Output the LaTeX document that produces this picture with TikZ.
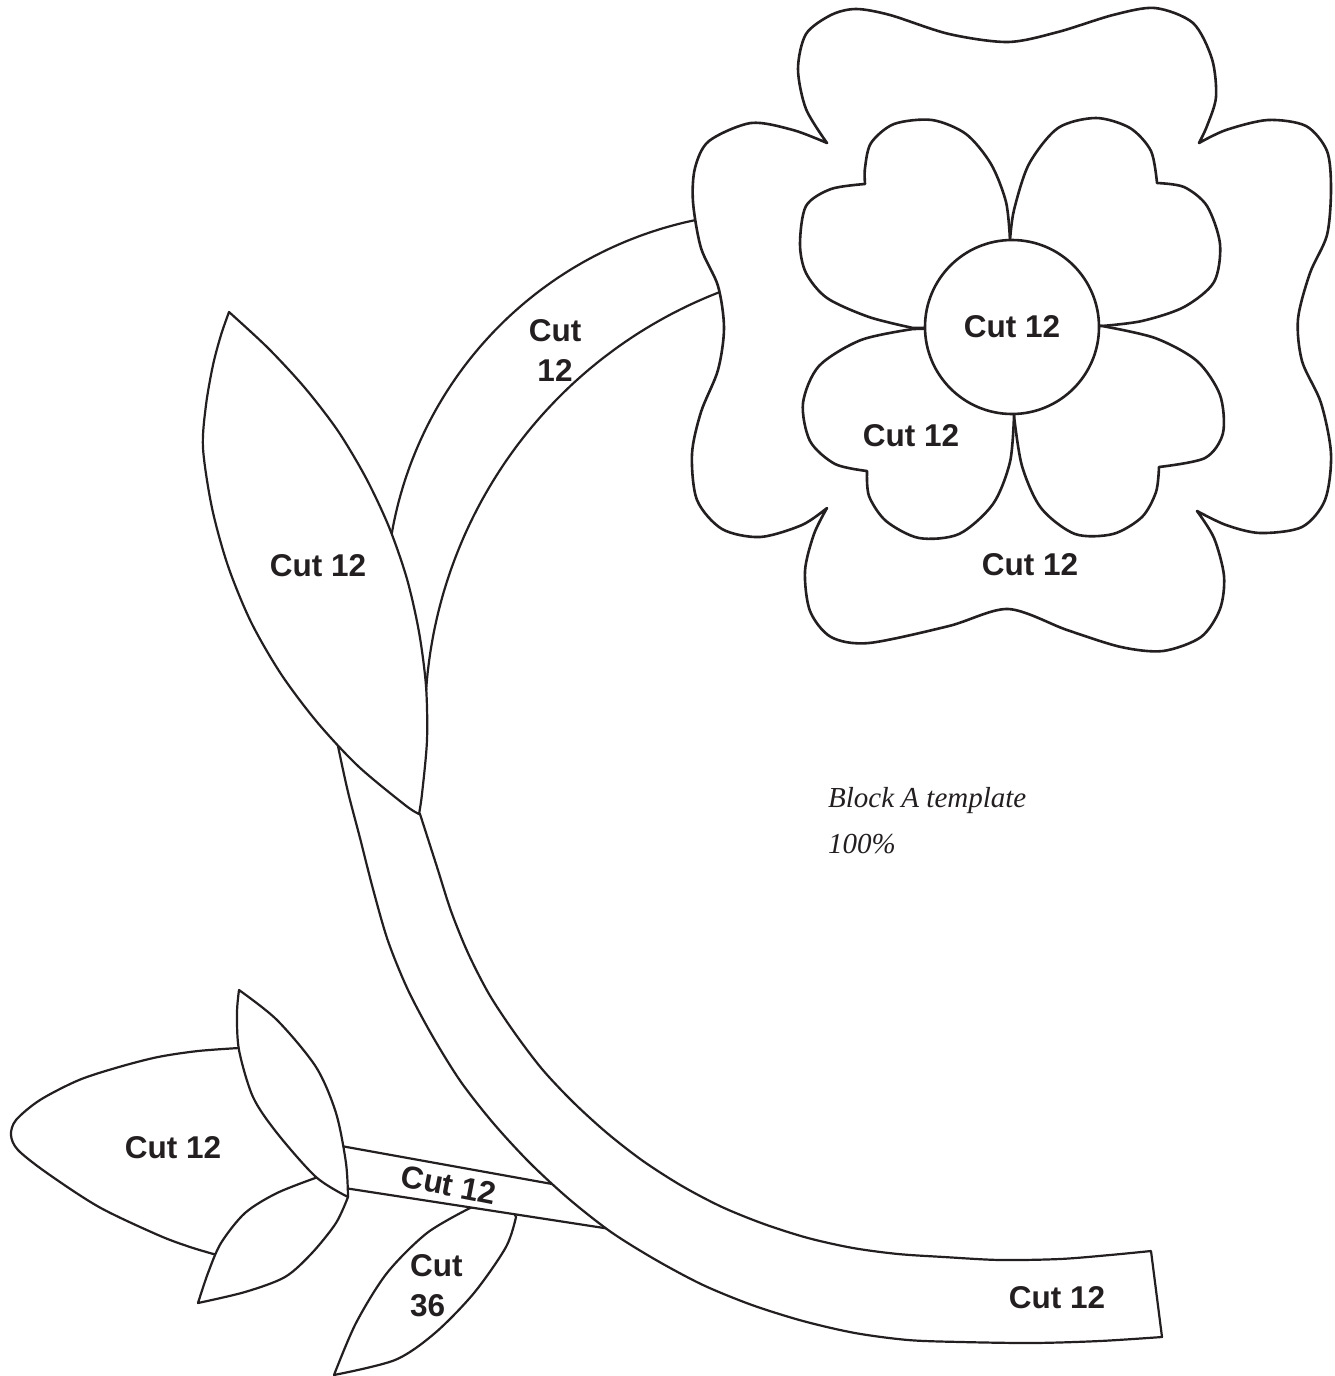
\documentclass[tikz,border=0pt]{standalone}
\usepackage{fontspec}
\setmainfont{Liberation Serif}
\setsansfont{Liberation Sans}
\usepackage{tikz}
\definecolor{ink}{HTML}{231F20}
\tikzset{
  piece/.style={draw=ink, line width=2.2pt, fill=white, line join=round},
  petal/.style={piece, line width=2.6pt},
  cutlbl/.style={font=\sffamily\bfseries\fontsize{31.5}{40}\selectfont, text=ink, inner sep=0pt},
  notelbl/.style={font=\itshape\fontsize{29}{46}\selectfont, text=ink, inner sep=0pt, anchor=base west}
}
\begin{document}
\begin{tikzpicture}[x=1pt, y=-1pt]
\useasboundingbox (0,0) rectangle (1335,1376);

% leaves and small stem at the bottom left
\draw[piece] plot[smooth] coordinates {(239,1048) (198,1051) (158,1057) (119,1067) (79,1080) (40,1100) (16,1120) (11,1135) (18,1150) (47,1173) (99,1207) (158,1235) (190,1247) (217,1255)}
  -- (280,1228) -- (333,1195) -- (328,1150) -- (270,1090) -- cycle;
\draw[piece] plot[smooth] coordinates {(318,1177) (277,1193) (245,1213) (221,1243) (208,1273) (198,1303)}
  -- plot[smooth] coordinates {(198,1303) (245,1292) (285,1277) (312,1253) (336,1223) (348,1197)}
  -- (336,1168) -- cycle;
\draw[piece] plot[smooth] coordinates {(470,1208) (427,1233) (387,1273) (356,1323) (334,1375)}
  -- plot[smooth] coordinates {(334,1375) (395,1360) (435,1333) (474,1293) (506,1247) (516,1217)}
  -- (505,1195) -- cycle;
\draw[piece] (330,1144) -- (580,1189) -- (630,1232) -- (338,1187) -- cycle;
\draw[piece] plot[smooth] coordinates {(239,990) (277,1020) (316,1067) (336,1113) (346,1163) (348,1197)}
  -- plot[smooth] coordinates {(348,1197) (316,1177) (277,1133) (253,1097) (239,1050) (237,1013) (239,990)} -- cycle;

% lower stem
\draw[piece] plot[smooth] coordinates {(334,722) (338,746) (348,792) (360,838) (373,889) (388,941) (408,990) (433,1037) (461,1082) (494,1124) (530,1163) (569,1199) (611,1232) (656,1260) (703,1285) (752,1305) (803,1321) (855,1333) (908,1340) (961,1342) (1033,1343) (1100,1341) (1162,1337)}
  -- plot[smooth] coordinates {(1151,1251) (1110,1255) (1060,1259) (1000,1260) (944,1257) (898,1254) (853,1248) (808,1238) (764,1224) (722,1207) (682,1186) (643,1161) (607,1133) (573,1102) (542,1069) (514,1032) (489,994) (468,953) (451,911) (437,867) (420,814)} -- cycle;

% upper stem and big leaf
\draw[piece] plot[smooth, domain=265:180, samples=30] ({774+388*cos(\x)},{600+388*sin(\x)})
  -- plot[smooth, domain=181:255, samples=30] ({886+461*cos(\x)},{722+461*sin(\x)}) -- cycle;
\draw[piece] plot[smooth] coordinates {(229,312) (268,348) (305,388) (338,431) (366,478) (389,527) (407,579) (419,632) (426,686) (427,740) (422,794) (419,814)}
  -- plot[smooth] coordinates {(419,814) (405,805) (358,766) (317,722) (281,674) (251,622) (228,566) (212,508) (203,448) (206,405) (213,365) (221,335) (229,312)} -- cycle;

% flower
\draw[petal] plot[smooth] coordinates {(827,143) (806,109) (798,69) (806,34) (831,15) (856,9) (890,15) (949,34) (1008,42) (1058,32) (1113,15) (1155,8) (1193,23) (1212,59) (1216,97) (1207,126) (1199,143)}
  -- plot[smooth] coordinates {(1199,143) (1226,130) (1268,120) (1306,126) (1327,151) (1331,189) (1327,235) (1310,273) (1298,319) (1302,361) (1321,403) (1331,454) (1325,500) (1302,527) (1260,533) (1226,525) (1197,511)}
  -- plot[smooth] coordinates {(1197,511) (1214,538) (1224,576) (1220,609) (1201,637) (1163,651) (1121,647) (1067,630) (1008,609) (949,626) (869,643) (831,637) (810,611) (805,571) (814,534) (827,508)}
  -- plot[smooth] coordinates {(827,508) (802,525) (760,537) (722,529) (697,500) (692,454) (701,412) (718,370) (724,328) (718,286) (701,248) (693,202) (695,168) (709,141) (751,123) (793,130) (827,143)} -- cycle;
\draw[petal] plot[smooth] coordinates {(1010,240) (1006,202) (991,164) (966,134) (932,120) (894,124) (871,143) (865,168) (865,184)}
  -- plot[smooth] coordinates {(865,184) (831,189) (806,206) (800,244) (806,273) (827,298) (869,317) (913,328)} -- (1012,327) -- cycle;
\draw[petal] plot[smooth] coordinates {(1010,240) (1014,210) (1029,164) (1058,128) (1096,118) (1130,128) (1151,151) (1157,183)}
  -- plot[smooth] coordinates {(1157,183) (1184,187) (1207,206) (1220,244) (1214,282) (1184,307) (1142,321) (1102,326)} -- (1012,327) -- cycle;
\draw[petal] plot[smooth] coordinates {(1102,326) (1155,338) (1197,361) (1220,395) (1223,433) (1205,458) (1159,467)}
  -- plot[smooth] coordinates {(1159,467) (1156,492) (1142,517) (1113,534) (1075,534) (1041,508) (1022,466) (1014,416)} -- (1012,327) -- cycle;
\draw[petal] plot[smooth] coordinates {(1014,416) (1010,462) (993,504) (959,534) (919,538) (886,521) (869,496) (867,471)}
  -- plot[smooth] coordinates {(867,471) (835,464) (810,441) (803,403) (819,366) (861,340) (913,329)} -- (1012,327) -- cycle;
\node[petal, cutlbl, circle, minimum size=174pt] (eye) at (1012,327) {Cut 12};

% labels
\foreach \nm/\px/\py in {petlbl/911/436, bloomlbl/1030/565, leaflbl/318/566, sidelbl/173/1148, endlbl/1057/1298}
  \node[cutlbl] (\nm) at (\px,\py) {Cut 12};
\node[cutlbl, align=center] (stemlbl) at (555,350) {Cut\\12};
\node[cutlbl, rotate=-11] (twiglbl) at (449,1185) {Cut 12};
\node[cutlbl, align=left, anchor=west] (budlbl) at (410,1286) {Cut\\36};
\node[notelbl] (blocklbl) at (828,807) {Block A template};
\node[notelbl] (scalelbl) at (828,853) {100\%};
\end{tikzpicture}
\end{document}
